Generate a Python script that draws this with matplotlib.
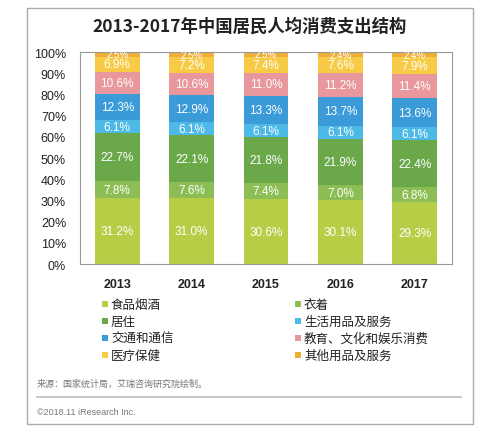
import matplotlib
matplotlib.use("Agg")
import matplotlib.pyplot as plt
from matplotlib.patches import Rectangle
from matplotlib.lines import Line2D
import numpy as np

plt.rcParams['font.family'] = ['Noto Sans CJK SC', 'DejaVu Sans']

# data (bottom to top of each stack)
years = ["2013", "2014", "2015", "2016", "2017"]
categories = ["食品烟酒", "衣着", "居住", "生活用品及服务",
              "交通和通信", "教育、文化和娱乐消费", "医疗保健", "其他用品及服务"]
food = [31.2, 31.0, 30.6, 30.1, 29.3]
clothing = [7.8, 7.6, 7.4, 7.0, 6.8]
housing = [22.7, 22.1, 21.8, 21.9, 22.4]
daily_goods = [6.1, 6.1, 6.1, 6.1, 6.1]
transport = [12.3, 12.9, 13.3, 13.7, 13.6]
education = [10.6, 10.6, 11.0, 11.2, 11.4]
medical = [6.9, 7.2, 7.4, 7.6, 7.9]
other = [2.5, 2.5, 2.5, 2.4, 2.4]
series = [food, clothing, housing, daily_goods, transport, education, medical, other]
colors = ["#B6CE46", "#8DBE55", "#6BA84A", "#4CB9E6",
          "#3B9BD8", "#E8979C", "#F7CB45", "#EEAE3A"]

W, H = 500, 435
fig = plt.figure(figsize=(W / 100, H / 100), dpi=100)

# outer frame
fig.patches.append(Rectangle((27 / W, 1 - 425 / H), 446 / W, 416 / H,
                             transform=fig.transFigure, fill=False,
                             edgecolor="#AAAAAA", linewidth=1.0))

fig.text(250 / W, 1 - 27 / H, "2013-2017年中国居民人均消费支出结构",
         ha="center", va="center", fontsize=12.5, fontweight="bold", color="#222222")

ax = fig.add_axes([80 / W, 1 - 265 / H, 372 / W, 212 / H])
x = np.arange(len(years))
bottom = np.zeros(len(years))
for k, (vals, col) in enumerate(zip(series, colors)):
    vals = np.array(vals)
    ax.bar(x, vals, 0.6, bottom=bottom, color=col, edgecolor="none")
    # the thin top segment gets a smaller label, like the source
    fs = 7 if k == len(series) - 1 else 8.5
    for xi, b, v in zip(x, bottom, vals):
        ax.text(xi, b + v / 2, f"{v:.1f}%", ha="center", va="center",
                fontsize=fs, color="white", family=["Liberation Sans", "DejaVu Sans"],
                clip_on=True)
    bottom += vals

ax.set_xlim(-0.5, len(years) - 0.5)
ax.set_ylim(0, 100)
ax.set_yticks(range(0, 101, 10))
ax.set_yticklabels([f"{v}%" for v in range(0, 101, 10)],
                   family=["Liberation Sans", "DejaVu Sans"], fontsize=9)
ax.set_xticks(x)
ax.set_xticklabels(years, family=["Liberation Sans", "DejaVu Sans"], fontsize=9,
                   fontweight="bold")
ax.tick_params(axis="both", length=0, colors="#222222")
ax.tick_params(axis="y", pad=10)
ax.tick_params(axis="x", pad=10)
for s in ax.spines.values():
    s.set_color("#999999")
    s.set_linewidth(0.8)

# legend, two columns
rows = [305, 322, 339, 356]
cols = [105, 298]
for i, (name, col) in enumerate(zip(categories, colors)):
    cx = cols[i % 2]
    cy = rows[i // 2]
    fig.patches.append(Rectangle(((cx - 3) / W, 1 - (cy + 3) / H), 6 / W, 6 / H,
                                 transform=fig.transFigure, facecolor=col,
                                 edgecolor="none"))
    fig.text((cx + 6) / W, 1 - cy / H, name, ha="left", va="center",
             fontsize=9, color="#222222")

fig.text(37 / W, 1 - 384 / H, "来源：国家统计局，艾瑞咨询研究院绘制。",
         ha="left", va="center", fontsize=6.5, color="#777777")
fig.lines.append(Line2D([37 / W, 461 / W], [1 - 398 / H, 1 - 398 / H],
                        transform=fig.transFigure, color="#BBBBBB", linewidth=1.2))
fig.text(37 / W, 1 - 413 / H, "©2018.11 iResearch Inc.",
         ha="left", va="center", fontsize=6.5, color="#777777",
         family=["Liberation Sans", "DejaVu Sans"])

fig.savefig("out.png", dpi=100)
